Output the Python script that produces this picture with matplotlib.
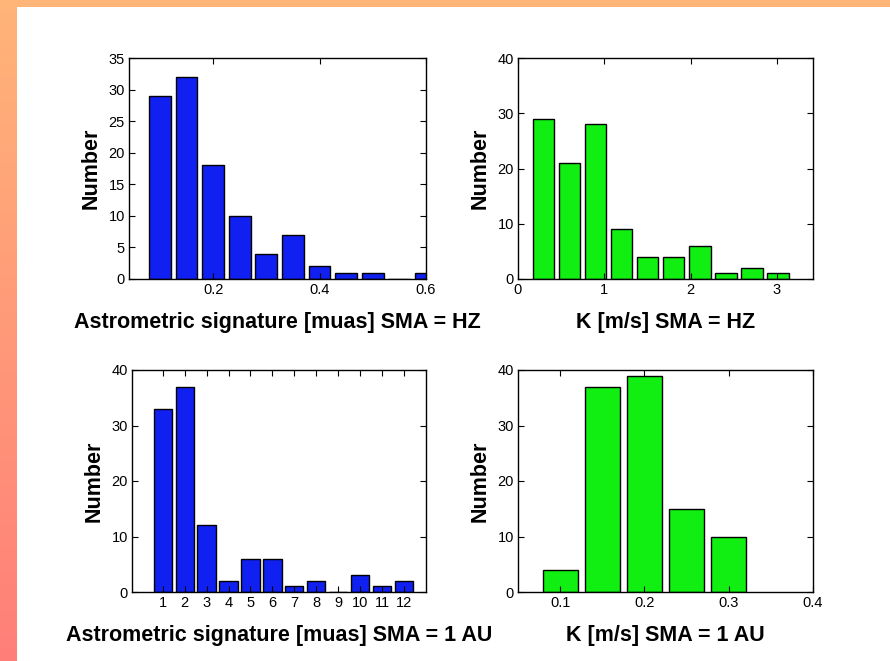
import numpy as np
import matplotlib
matplotlib.use("Agg")
import matplotlib.pyplot as plt
from matplotlib import font_manager

# --- data ---
astro_hz_centers = [0.10, 0.15, 0.20, 0.25, 0.30, 0.35, 0.40, 0.45, 0.50, 0.55, 0.60]
astro_hz_counts = [29, 32, 18, 10, 4, 7, 2, 1, 1, 0, 1]

k_hz_centers = [0.295, 0.597, 0.899, 1.201, 1.503, 1.805, 2.107, 2.409, 2.711, 3.013]
k_hz_counts = [29, 21, 28, 9, 4, 4, 6, 1, 2, 1]

astro_au_centers = [1, 2, 3, 4, 5, 6, 7, 8, 9, 10, 11, 12]
astro_au_counts = [33, 37, 12, 2, 6, 6, 1, 2, 0, 3, 1, 2]

k_au_centers = [0.10, 0.15, 0.20, 0.25, 0.30]
k_au_counts = [4, 37, 39, 15, 10]

BLUE = "#1020f0"
GREEN = "#11ee11"

names = {f.name for f in font_manager.fontManager.ttflist}
tick_font = "Liberation Sans Narrow" if "Liberation Sans Narrow" in names else "Liberation Sans"
label_font = "Liberation Sans"

W, H = 890, 661
fig = plt.figure(figsize=(W / 100, H / 100), dpi=100, facecolor="white")

# slide-style border: orange strip on top, orange->salmon gradient on left
bg = fig.add_axes([0, 0, 1, 1], zorder=-10)
bg.set_axis_off()
grad = np.linspace(0, 1, 256)[:, None]
top_c = np.array([255, 180, 120]) / 255
bot_c = np.array([255, 127, 120]) / 255
img = top_c[None, None, :] * (1 - grad[..., None]) + bot_c[None, None, :] * grad[..., None]
bg.imshow(img, extent=(0, 17, H, 0), aspect="auto")
bg.add_patch(plt.Rectangle((0, 0), W, 7, color=top_c, lw=0))
bg.set_xlim(0, W); bg.set_ylim(H, 0)


def panel(box, centers, counts, width, color, xlim, ylim, yticks, xticks, xlabel):
    l, r, t, b = box
    ax = fig.add_axes([l / W, 1 - b / H, (r - l) / W, (b - t) / H])
    ax.bar(centers, counts, width=width, color=color, edgecolor="black", linewidth=1.0)
    ax.set_xlim(*xlim)
    ax.set_ylim(*ylim)
    ax.set_yticks(yticks)
    ax.set_xticks(xticks)
    ax.set_xticklabels([f"{v:g}" for v in xticks])
    ax.tick_params(direction="in", length=4, width=0.8, top=True, right=True,
                   labelsize=10.5, pad=3)
    for lab in ax.get_xticklabels() + ax.get_yticklabels():
        lab.set_fontfamily(tick_font)
    for s in ax.spines.values():
        s.set_linewidth(1.0)
    ax.set_ylabel("Number", fontsize=15.5, fontweight="bold", family=label_font, labelpad=5)
    ax.set_xlabel(xlabel, fontsize=15.5, fontweight="bold", family=label_font, labelpad=11)
    return ax


panel((129, 426, 58, 279), astro_hz_centers, astro_hz_counts, 0.041, BLUE,
      (0.042, 0.6), (0, 35), range(0, 36, 5), [0.2, 0.4, 0.6],
      "Astrometric signature [muas] SMA = HZ")
panel((518, 813, 58, 279), k_hz_centers, k_hz_counts, 0.25, GREEN,
      (0, 3.42), (0, 40), range(0, 41, 10), [0, 1, 2, 3],
      "K [m/s] SMA = HZ")
panel((132, 426, 370, 592), astro_au_centers, astro_au_counts, 0.83, BLUE,
      (-0.4, 13), (0, 40), range(0, 41, 10), list(range(1, 13)),
      "Astrometric signature [muas] SMA = 1 AU")
panel((518, 813, 370, 592), k_au_centers, k_au_counts, 0.0417, GREEN,
      (0.05, 0.4), (0, 40), range(0, 41, 10), [0.1, 0.2, 0.3, 0.4],
      "K [m/s] SMA = 1 AU")

fig.savefig("out.png", dpi=100)
